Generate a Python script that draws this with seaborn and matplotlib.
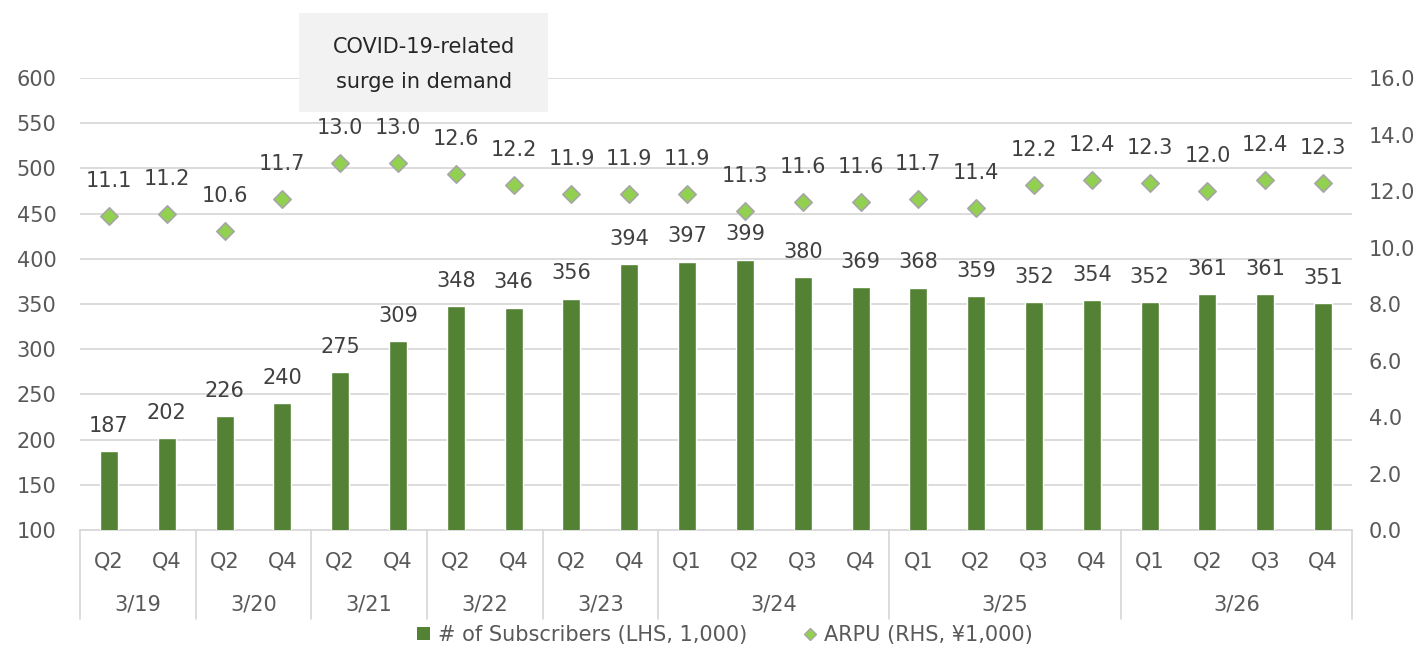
import matplotlib
matplotlib.use("Agg")
import matplotlib.pyplot as plt
import seaborn as sns
import pandas as pd
from matplotlib.lines import Line2D
from matplotlib.patches import Patch, Rectangle

quarters = ["Q2", "Q4", "Q2", "Q4", "Q2", "Q4", "Q2", "Q4", "Q2", "Q4",
            "Q1", "Q2", "Q3", "Q4", "Q1", "Q2", "Q3", "Q4", "Q1", "Q2", "Q3", "Q4"]
years = ["3/19", "3/20", "3/21", "3/22", "3/23", "3/24", "3/25", "3/26"]
year_sizes = [2, 2, 2, 2, 2, 4, 4, 4]
subscribers = [187, 202, 226, 240, 275, 309, 348, 346, 356, 394, 397, 399,
               380, 369, 368, 359, 352, 354, 352, 361, 361, 351]
arpu = [11.1, 11.2, 10.6, 11.7, 13.0, 13.0, 12.6, 12.2, 11.9, 11.9, 11.9, 11.3,
        11.6, 11.6, 11.7, 11.4, 12.2, 12.4, 12.3, 12.0, 12.4, 12.3]
left_ticks = [100, 150, 200, 250, 300, 350, 400, 450, 500, 550, 600]
right_ticks = [0, 2, 4, 6, 8, 10, 12, 14, 16]
bar_label_name = "# of Subscribers (LHS, 1,000)"
arpu_label_name = "ARPU (RHS, ¥1,000)"
note_lines = ["COVID-19-related", "surge in demand"]

sns.set_theme(style="white")
plt.rcParams['font.family'] = ['DejaVu Sans']

BAR = "#548235"
MARK = "#92D050"
TXT = "#595959"
DTXT = "#404040"
GRID = "#D9D9D9"
FS = 15

df = pd.DataFrame({"idx": list(range(len(quarters))), "subs": subscribers, "arpu": arpu})

fig = plt.figure(figsize=(14.23, 6.48), dpi=100)
ax = fig.add_axes([80/1423, 1-530/648, (1352-80)/1423, (530-78)/648])

sns.barplot(data=df, x="idx", y="subs", color=BAR, width=0.31, ax=ax,
            saturation=1, zorder=3)
ax.set_ylim(100, 600)
ax.set_xlim(-0.5, len(quarters) - 0.5)
ax.set_yticks(left_ticks)
ax.set_yticklabels([str(t) for t in left_ticks], fontsize=FS, color=TXT)
ax.yaxis.grid(True, color=GRID, linewidth=1.3, zorder=0)
ax.set_axisbelow(True)
for s in ["left", "right", "top"]:
    ax.spines[s].set_visible(False)
ax.spines["bottom"].set_color(GRID)
ax.spines["bottom"].set_linewidth(1.3)
ax.tick_params(axis="both", length=0, pad=17)
ax.set_xticks([])
ax.set_xlabel("")
ax.set_ylabel("")

for i, v in enumerate(subscribers):
    ax.annotate(str(v), (i, v), xytext=(0, 11), textcoords="offset points",
                ha="center", va="bottom", fontsize=FS, color=DTXT)

ax2 = ax.twinx()
sns.scatterplot(data=df, x="idx", y="arpu", marker="D", s=78, color=MARK,
                edgecolor="#A6A6A6", linewidth=1.2, ax=ax2, zorder=4, legend=False)
ax2.set_ylim(0, 16)
ax2.set_xlim(-0.5, len(quarters) - 0.5)
ax2.set_yticks(right_ticks)
ax2.set_yticklabels([f"{t:.1f}" for t in right_ticks], fontsize=FS, color=TXT)
ax2.tick_params(axis="both", length=0, pad=12)
for s in ["left", "right", "top", "bottom"]:
    ax2.spines[s].set_visible(False)
ax2.set_ylabel("")
ax2.set_xlabel("")
for i, v in enumerate(arpu):
    ax2.annotate(f"{v:.1f}", (i, v), xytext=(0, 18), textcoords="offset points",
                 ha="center", va="bottom", fontsize=FS, color=DTXT)

# two-level category axis
tr = ax.get_xaxis_transform()
q_y = (530 - 562) / 452
y_y = (530 - 605) / 452
line_bot = (530 - 619) / 452
for i, q in enumerate(quarters):
    ax.text(i, q_y, q, transform=tr, ha="center", va="center", fontsize=FS, color=TXT)
start = 0
bounds = [-0.5]
for yl, n in zip(years, year_sizes):
    center = start + (n - 1) / 2
    ax.text(center, y_y, yl, transform=tr, ha="center", va="center", fontsize=FS, color=TXT)
    start += n
    bounds.append(start - 0.5)
for b in bounds:
    ax.plot([b, b], [0, line_bot], transform=tr, color=GRID, linewidth=1.3, clip_on=False)

# annotation box
fig.add_artist(Rectangle((299/1423, 1 - 112/648), 249/1423, 99/648,
                         transform=fig.transFigure, facecolor="#F2F2F2",
                         edgecolor="none", zorder=5))
fig.text(424/1423, 1 - 47/648, note_lines[0], ha="center", va="center",
         fontsize=FS, color="#262626", zorder=6)
fig.text(424/1423, 1 - 82/648, note_lines[1], ha="center", va="center",
         fontsize=FS, color="#262626", zorder=6)

handles = [Patch(facecolor=BAR, edgecolor="none"),
           Line2D([], [], marker="D", linestyle="none", markerfacecolor=MARK,
                  markeredgecolor="#A6A6A6", markersize=6)]
fig.legend(handles, [bar_label_name, arpu_label_name], loc="center",
           bbox_to_anchor=(725/1423, 1 - 635/648), ncol=2, frameon=False,
           fontsize=FS, labelcolor=TXT, handlelength=0.6, handleheight=0.6,
           handletextpad=0.4, columnspacing=2.7)

fig.savefig("out.png", dpi=100)
